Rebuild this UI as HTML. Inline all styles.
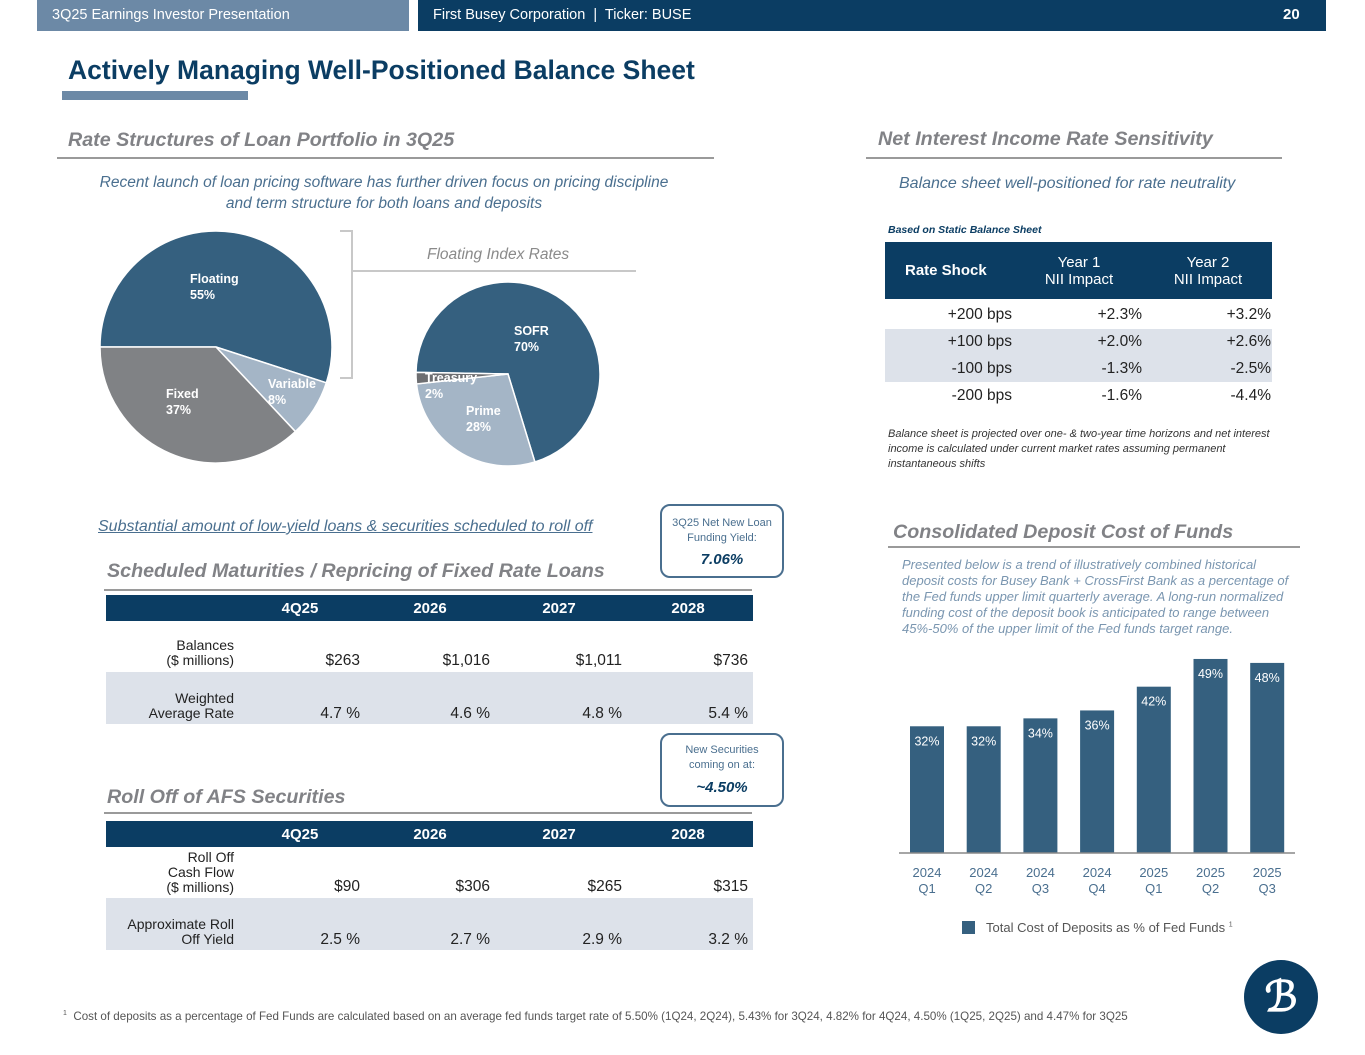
<!DOCTYPE html>
<html><head><meta charset="utf-8">
<style>
body{margin:0;width:1365px;height:1055px;position:relative;background:#fff;font-family:"Liberation Sans",sans-serif;overflow:hidden}
.a{position:absolute;white-space:nowrap}
.h2{font-weight:bold;font-style:italic;font-size:19.7px;color:#818286}
.rule{position:absolute;height:2px;background:#9a9a9a}
.sub{font-style:italic;font-size:15.5px;color:#4a6f8f}
.nv{background:#0b3d63}
.sh{background:#dde2ea}
.t{font-size:15px;color:#222}
.th{font-size:15px;color:#fff;font-weight:bold}
.box{position:absolute;border:2px solid #4a6f8f;border-radius:10px;text-align:center;font-size:11px;color:#4a6f8f;line-height:15px}
</style></head><body>
<div class="a" style="left:37px;top:0;width:372px;height:31px;background:#6c89a6"></div>
<div class="a" style="left:52px;top:7px;font-size:14.5px;color:#fff">3Q25 Earnings Investor Presentation</div>
<div class="a nv" style="left:418px;top:0;width:908px;height:31px"></div>
<div class="a" style="left:433px;top:7px;font-size:14.5px;color:#fff">First Busey Corporation &nbsp;|&nbsp; Ticker: BUSE</div>
<div class="a" style="left:1283px;top:6px;font-size:15px;font-weight:bold;color:#fff">20</div>
<div class="a" style="left:68px;top:55px;font-size:26.5px;font-weight:bold;color:#0b3d63">Actively Managing Well-Positioned Balance Sheet</div>
<div class="a" style="left:62px;top:91px;width:186px;height:9px;background:#6c89a6"></div>

<div class="a h2" style="left:68px;top:129px">Rate Structures of Loan Portfolio in 3Q25</div>
<div class="rule" style="left:57px;top:157px;width:657px"></div>
<div class="a sub" style="left:99px;top:172px;width:570px;text-align:center;line-height:21px;white-space:normal">Recent launch of loan pricing software has further driven focus on pricing discipline and term structure for both loans and deposits</div>
<div class="a" style="left:340px;top:230px;width:11px;height:145px;border:2px solid #c8c8c8;border-left:none"></div>
<div class="a" style="left:427px;top:246px;font-size:15.5px;font-style:italic;color:#8a8a8a">Floating Index Rates</div>
<div class="rule" style="left:352px;top:270px;width:284px;background:#c8c8c8"></div>
<svg class="a" id="pies" style="left:0;top:0" width="700" height="500"></svg>

<div class="a h2" style="left:878px;top:128px">Net Interest Income Rate Sensitivity</div>
<div class="rule" style="left:866px;top:157px;width:416px"></div>
<div class="a sub" style="left:899px;top:175px;font-size:16px">Balance sheet well-positioned for rate neutrality</div>
<div class="a" style="left:888px;top:224px;font-size:10.5px;font-weight:bold;font-style:italic;color:#0b3d63">Based on Static Balance Sheet</div>
<div class="a nv" style="left:885px;top:242px;width:387px;height:57px"></div>
<div class="a th" style="left:905px;top:262px">Rate Shock</div>
<div class="a" style="left:1019px;top:254px;width:120px;text-align:center;color:#fff;font-size:15px;line-height:17px">Year 1<br>NII Impact</div>
<div class="a" style="left:1148px;top:254px;width:120px;text-align:center;color:#fff;font-size:15px;line-height:17px">Year 2<br>NII Impact</div>
<div class="a sh" style="left:885px;top:329px;width:387px;height:53px"></div>
<div id="nii"></div>
<div class="a" style="left:888px;top:427px;width:385px;white-space:normal;font-size:11px;font-style:italic;color:#333;line-height:15px">Balance sheet is projected over one- &amp; two-year time horizons and net interest income is calculated under current market rates assuming permanent instantaneous shifts</div>

<div class="a sub" style="left:98px;top:518px;font-size:16px;text-decoration:underline">Substantial amount of low-yield loans &amp; securities scheduled to roll off</div>
<div class="box" style="left:660px;top:504px;width:120px;height:70px"><div style="margin-top:10px">3Q25 Net New Loan<br>Funding Yield:</div><div style="font-size:15px;font-weight:bold;font-style:italic;color:#0b3d63;margin-top:6px">7.06%</div></div>
<div class="a h2" style="left:107px;top:560px">Scheduled Maturities / Repricing of Fixed Rate Loans</div>
<div class="rule" style="left:104px;top:589px;width:648px"></div>
<div id="t1"></div>
<div class="box" style="left:660px;top:733px;width:120px;height:70px"><div style="margin-top:8px">New Securities<br>coming on at:</div><div style="font-size:15px;font-weight:bold;font-style:italic;color:#0b3d63;margin-top:7px">~4.50%</div></div>
<div class="a h2" style="left:107px;top:786px">Roll Off of AFS Securities</div>
<div class="rule" style="left:104px;top:812px;width:648px"></div>
<div id="t2"></div>

<div class="a h2" style="left:893px;top:521px">Consolidated Deposit Cost of Funds</div>
<div class="rule" style="left:888px;top:546px;width:412px"></div>
<div class="a" style="left:902px;top:557px;width:395px;white-space:normal;font-size:13px;font-style:italic;color:#7a96b0;line-height:16px">Presented below is a trend of illustratively combined historical deposit costs for Busey Bank + CrossFirst Bank as a percentage of the Fed funds upper limit quarterly average. A long-run normalized funding cost of the deposit book is anticipated to range between 45%-50% of the upper limit of the Fed funds target range.</div>
<svg class="a" id="bars" style="left:880px;top:640px" width="440" height="260"></svg>
<div class="a" style="left:962px;top:921px;width:13px;height:13px;background:#35607f"></div>
<div class="a" style="left:986px;top:920px;font-size:13px;color:#555">Total Cost of Deposits as % of Fed Funds <sup style="font-size:7px">1</sup></div>

<div class="a" style="left:63px;top:1010px;font-size:11.6px;color:#555"><sup style="font-size:7px">1</sup>&nbsp; Cost of deposits as a percentage of Fed Funds are calculated based on an average fed funds target rate of 5.50% (1Q24, 2Q24), 5.43% for 3Q24, 4.82% for 4Q24, 4.50% (1Q25, 2Q25) and 4.47% for 3Q25</div>
<svg class="a" style="left:1243px;top:959px" width="76" height="76"><circle cx="38" cy="38" r="37" fill="#0b3d63"/><text x="38" y="52" text-anchor="middle" font-family="Liberation Serif" font-size="42" font-weight="bold" fill="#fff">ℬ</text></svg>

<script>
const NS='http://www.w3.org/2000/svg';
const loanLabels=['Floating','Variable','Fixed'];
const loanValues=[55,8,37];
const loanColors=['#35607f','#a4b5c6','#808285'];
const idxLabels=['SOFR','Prime','Treasury'];
const idxValues=[70,28,2];
const idxColors=['#35607f','#a4b5c6','#6d6e71'];
function el(t,a,p){const e=document.createElementNS(NS,t);for(const k in a)e.setAttribute(k,a[k]);p.appendChild(e);return e;}
const pies=document.getElementById('pies');
function pie(cx,cy,r,start,vals,cols,labs,lpos){
  const tot=vals.reduce((a,b)=>a+b,0);let a=start;
  vals.forEach((v,i)=>{
    const a2=a+v/tot*360;
    const p=d=>[cx+r*Math.sin(d*Math.PI/180),cy-r*Math.cos(d*Math.PI/180)];
    const [x1,y1]=p(a),[x2,y2]=p(a2);
    const s=el('path',{d:`M${cx},${cy}L${x1},${y1}A${r},${r} 0 ${a2-a>180?1:0} 1 ${x2},${y2}Z`,fill:cols[i],stroke:'#fff','stroke-width':1.5},pies);
    
    
    const [lx,ly]=lpos[i];
    const t=el('text',{x:lx,y:ly,fill:'#fff','font-size':12.5,'font-weight':'bold'},pies);
    
    
    el('tspan',{x:lx,dy:0},t).textContent=labs[i];
    el('tspan',{x:lx,dy:16},t).textContent=v+'%';
    a=a2;
  });
}
pie(216,347,116,270,loanValues,loanColors,loanLabels,[[190,283],[268,388],[166,398]]);
pie(508,374,92,271,idxValues,idxColors,idxLabels,[[514,335],[466,415],[425,382]]);

const shocks=['+200 bps','+100 bps','-100 bps','-200 bps'];
const y1Impact=['+2.3%','+2.0%','-1.3%','-1.6%'];
const y2Impact=['+3.2%','+2.6%','-2.5%','-4.4%'];
const nii=document.getElementById('nii');
function div(txt,css,name,par){const d=document.createElement('div');d.className='a t';d.style.cssText=css;d.textContent=txt;


par.appendChild(d);return d;}
shocks.forEach((s,i)=>{const y=306+i*27;
  div(s,`right:${1365-1012}px;top:${y}px;font-size:15.5px`,'nii-shock',nii);
  div(y1Impact[i],`right:${1365-1142}px;top:${y}px;font-size:15.5px`,'nii-year1',nii);
  div(y2Impact[i],`right:${1365-1271}px;top:${y}px;font-size:15.5px`,'nii-year2',nii);
});

const periods=['4Q25','2026','2027','2028'];
const loanBalances=['$263','$1,016','$1,011','$736'];
const loanRates=['4.7 %','4.6 %','4.8 %','5.4 %'];
const afsFlows=['$90','$306','$265','$315'];
const afsYields=['2.5 %','2.7 %','2.9 %','3.2 %'];
const colC=[300,430,559,688], colR=[360,490,622,748];
function table(id,top,lab1,lab2,r1,r2,pre){
  const p=document.getElementById(id);
  div('',`left:106px;top:${top}px;width:647px;height:26px;background:#0b3d63`,pre+'-header',p);
  periods.forEach((c,i)=>div(c,`left:${colC[i]-40}px;width:80px;text-align:center;top:${top+5}px;color:#fff;font-weight:bold`,pre+'-col-'+c,p));
  div('',`left:106px;top:${top+77}px;width:647px;height:52px;background:#dde2ea`,pre+'-shade',p);
  const l1=div('',`right:${1365-234}px;top:${top+(lab1.length>2?29:43)}px;text-align:right;line-height:15px;font-size:14px`,pre+'-row1-label',p);l1.innerHTML=lab1.join('<br>');
  const l2=div('',`right:${1365-234}px;top:${top+96}px;text-align:right;line-height:15px;font-size:14px`,pre+'-row2-label',p);l2.innerHTML=lab2.join('<br>');
  r1.forEach((v,i)=>div(v,`right:${1365-colR[i]}px;top:${top+57}px;font-size:15.5px`,pre+'-row1-value',p));
  r2.forEach((v,i)=>div(v,`right:${1365-colR[i]}px;top:${top+110}px;font-size:15.5px`,pre+'-row2-value',p));
}
table('t1',595,['Balances','($ millions)'],['Weighted','Average Rate'],loanBalances,loanRates,'maturities');
table('t2',821,['Roll Off','Cash Flow','($ millions)'],['Approximate Roll','Off Yield'],afsFlows,afsYields,'afs');

const quarters=[['2024','Q1'],['2024','Q2'],['2024','Q3'],['2024','Q4'],['2025','Q1'],['2025','Q2'],['2025','Q3']];
const depositCost=[32,32,34,36,42,49,48];
const bars=document.getElementById('bars');
const base=213, pxPer=3.96, x0=47, step=56.7, bw=34;
const xs=i=>x0+i*step, ys=v=>base-v*pxPer;
depositCost.forEach((v,i)=>{
  const r=el('rect',{x:xs(i)-bw/2,y:ys(v),width:bw,height:base-ys(v),fill:'#35607f'},bars);
  
  
  const t=el('text',{x:xs(i),y:ys(v)+19,'text-anchor':'middle',fill:'#fff','font-size':12.5},bars);
  
  
  t.textContent=v+'%';
  const q=el('text',{x:xs(i),y:base+24,'text-anchor':'middle',fill:'#4a6f8f','font-size':13},bars);
  
  
  el('tspan',{x:xs(i),dy:0},q).textContent=quarters[i][0];
  el('tspan',{x:xs(i),dy:16},q).textContent=quarters[i][1];
});
const ax=el('line',{x1:19,x2:415,y1:base,y2:base,stroke:'#888','stroke-width':1.5},bars);


</script>
</body></html>
